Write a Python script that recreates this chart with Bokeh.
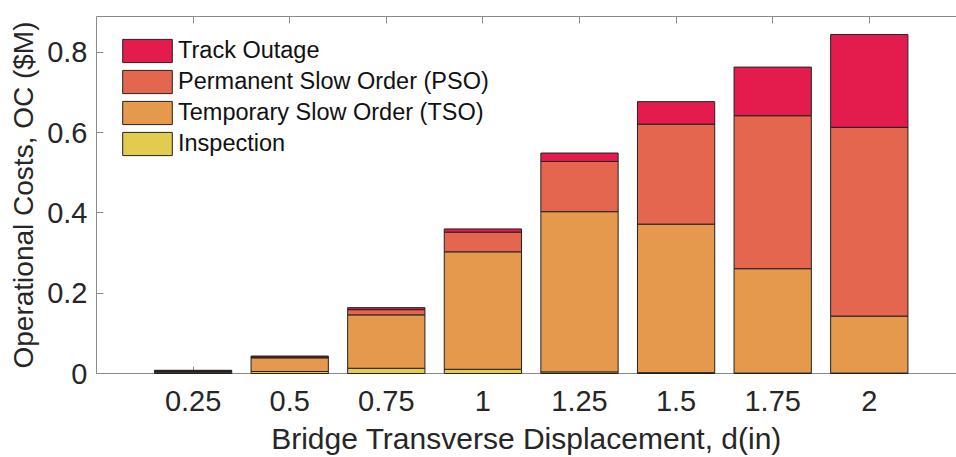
from bokeh.plotting import figure
from bokeh.models import (ColumnDataSource, FixedTicker, LinearAxis, Legend,
                          LegendItem, Range1d)
from bokeh.embed import file_html
from bokeh.resources import INLINE

# ---- data ----
displacement = [0.25, 0.5, 0.75, 1.0, 1.25, 1.5, 1.75, 2.0]
inspection = [0.002, 0.005, 0.013, 0.0105, 0.004, 0.002, 0.001, 0.001]
tso = [0.003, 0.034, 0.133, 0.2925, 0.399, 0.370, 0.260, 0.142]
pso = [0.0015, 0.002, 0.013, 0.049, 0.125, 0.249, 0.381, 0.470]
track_outage = [0.0015, 0.0025, 0.005, 0.008, 0.021, 0.056, 0.121, 0.231]

x_tick_labels = ["0.25", "0.5", "0.75", "1", "1.25", "1.5", "1.75", "2"]
y_ticks = [0, 0.2, 0.4, 0.6, 0.8]
y_tick_labels = ["0", "0.2", "0.4", "0.6", "0.8"]

series_keys = ["insp", "tso", "pso", "to"]
series_names = ["Inspection", "Temporary Slow Order (TSO)",
                "Permanent Slow Order (PSO)", "Track Outage"]
series_colors = ["#E3CB4E", "#E5994D", "#E4664E", "#E41B4D"]

FONT = "Liberation Sans"
TXT = "#262626"
AX = "#8a8a8a"

source = ColumnDataSource(dict(d=displacement, insp=inspection, tso=tso,
                               pso=pso, to=track_outage))

p = figure(width=956, height=457,
           x_range=Range1d(0, 2.2257), y_range=Range1d(0, 0.889),
           output_backend="svg", toolbar_location=None)
p.min_border_left = 96
p.min_border_right = 0
p.min_border_top = 16
p.min_border_bottom = 84
p.outline_line_color = None
p.xgrid.visible = False
p.ygrid.visible = False
p.background_fill_color = "white"
p.border_fill_color = "white"

renderers = p.vbar_stack(series_keys, x="d", width=0.2, source=source,
                         fill_color=series_colors, line_color="#222222",
                         line_width=1)
for r in renderers:
    r.level = "annotation"

# legend (Track Outage on top)
items = [LegendItem(label=n, renderers=[r])
         for n, r in zip(series_names[::-1], renderers[::-1])]
legend = Legend(items=items, location="top_left")
legend.glyph_width = 62
legend.glyph_height = 29
legend.label_height = 29
legend.spacing = 2
legend.padding = 1
legend.margin = 20
legend.label_standoff = 0
legend.label_text_font = FONT
legend.label_text_font_size = "23.5px"
legend.label_text_color = "#111111"
legend.background_fill_alpha = 0
legend.border_line_color = None
p.add_layout(legend, "center")


def style_axis(ax):
    ax.axis_line_color = AX
    ax.axis_line_width = 1
    ax.major_tick_line_color = AX
    ax.major_tick_in = 7
    ax.major_tick_out = 0
    ax.minor_tick_line_color = None
    ax.major_label_text_font = FONT
    ax.major_label_text_font_size = "29px"
    ax.major_label_text_color = TXT
    ax.axis_label_text_font = FONT
    ax.axis_label_text_font_size = "28px"
    ax.axis_label_text_font_style = "normal"
    ax.axis_label_text_color = TXT


xa = p.xaxis[0]
style_axis(xa)
xa.ticker = FixedTicker(ticks=displacement)
xa.major_label_overrides = {v: s for v, s in zip(displacement, x_tick_labels)}
xa.major_label_standoff = 17
xa.axis_label = "Bridge Transverse Displacement, d(in)"
xa.axis_label_text_font_size = "30px"
xa.axis_label_standoff = 8

ya = p.yaxis[0]
style_axis(ya)
ya.ticker = FixedTicker(ticks=y_ticks)
ya.major_label_overrides = {v: s for v, s in zip(y_ticks, y_tick_labels)}
ya.major_label_standoff = 9
ya.axis_label = "Operational Costs, OC ($M)"
ya.axis_label_standoff = 5

top = LinearAxis(ticker=FixedTicker(ticks=displacement))
style_axis(top)
top.major_label_overrides = {v: "" for v in displacement}
top.major_label_standoff = 0
p.add_layout(top, "above")

open("out.html", "w").write(file_html(p, INLINE))
